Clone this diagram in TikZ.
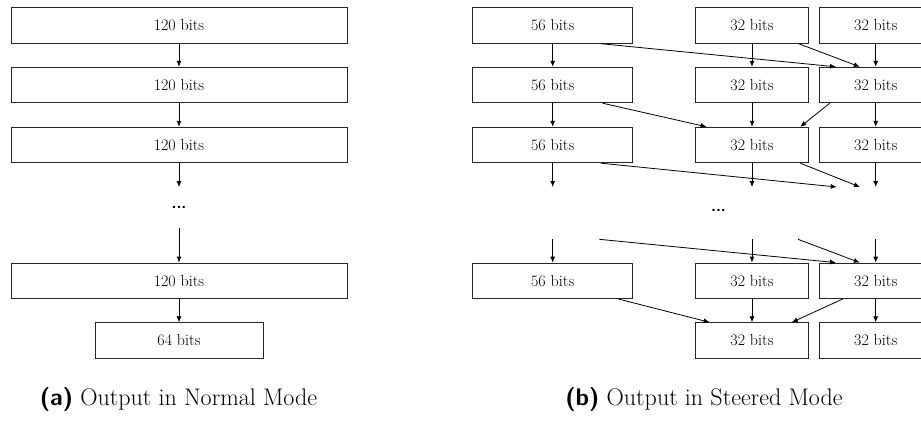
\documentclass[tikz,border=0pt]{standalone}
\usetikzlibrary{arrows.meta,calc}
\begin{document}
\begin{tikzpicture}[x=1pt,y=-1pt,
  box/.style={draw=black!85, line width=0.9pt, minimum height=35.5pt, inner sep=0pt, font=\fontsize{16}{19}\selectfont},
  bigbox/.style={box, minimum width=336pt},
  halfbox/.style={box, minimum width=168pt},
  abox/.style={box, minimum width=160pt},
  bbox/.style={box, minimum width=112.7pt},
  conn/.style={draw=black, line width=0.8pt, -{Latex[length=6pt,width=5pt]}},
  dots/.style={font=\fontsize{16}{19}\selectfont\sffamily\bfseries, inner sep=0pt},
  caption/.style={font=\fontsize{24}{29}\selectfont, inner sep=0pt}]
\useasboundingbox (0,0) rectangle (921,426);

% ---------- (a) Normal Mode ----------
\node[bigbox] (L1) at (179,25.5) {120 bits};
\node[bigbox] (L2) at (179,85) {120 bits};
\node[bigbox] (L3) at (179,145) {120 bits};
\coordinate (Lg1) at (179,187);
\node[dots] (Ldots) at (179,207) {...};
\coordinate (Lg2) at (179,228);
\node[bigbox] (L4) at (179,280.8) {120 bits};
\node[halfbox] (L5) at (179,340.5) {64 bits};

\draw[conn] (L1) -- (L2);
\draw[conn] (L2) -- (L3);
\draw[conn] (L3) -- (Lg1);
\draw[conn] (Lg2) -- (L4);
\draw[conn] (L4) -- (L5);

\node[caption] (capa) at (178.5,399) {{\sffamily\bfseries (a)} Output in Normal Mode};

% ---------- (b) Steered Mode ----------
\node[abox] (A1) at (552.7,25.5) {56 bits};
\node[abox] (A2) at (552.7,85) {56 bits};
\node[abox] (A3) at (552.7,145) {56 bits};
\node[abox] (A4) at (552.7,280.8) {56 bits};

\node[bbox] (B1) at (752,25.5) {32 bits};
\node[bbox] (B2) at (752,85) {32 bits};
\node[bbox] (B3) at (752,145) {32 bits};
\node[bbox] (B4) at (752,280.8) {32 bits};
\node[bbox] (B5) at (752,340.5) {32 bits};

\node[bbox] (C1) at (875.7,25.5) {32 bits};
\node[bbox] (C2) at (875.7,85) {32 bits};
\node[bbox] (C3) at (875.7,145) {32 bits};
\node[bbox] (C4) at (875.7,280.8) {32 bits};
\node[bbox] (C5) at (875.7,340.5) {32 bits};

\coordinate (Ag1) at (552.7,187);
\coordinate (Bg1) at (752,187);
\coordinate (Cg1) at (875.7,187);
\coordinate (Dg1) at (836.7,187);
\coordinate (Eg1) at (860,187);
\node[dots] (Rdots) at (718.5,210) {...};
\coordinate (Ag2) at (552.7,239.3);
\coordinate (Bg2) at (752,239.3);
\coordinate (Cg2) at (875.7,239.3);
\coordinate (Dg2) at (599.3,239.3);
\coordinate (Eg2) at (798,239.3);

% verticals
\draw[conn] (A1) -- (A2);
\draw[conn] (A2) -- (A3);
\draw[conn] (A3) -- (Ag1);
\draw[conn] (Ag2) -- (A4);
\draw[conn] (B1) -- (B2);
\draw[conn] (B2) -- (B3);
\draw[conn] (B3) -- (Bg1);
\draw[conn] (Bg2) -- (B4);
\draw[conn] (B4) -- (B5);
\draw[conn] (C1) -- (C2);
\draw[conn] (C2) -- (C3);
\draw[conn] (C3) -- (Cg1);
\draw[conn] (Cg2) -- (C4);
\draw[conn] (C4) -- (C5);

% diagonals
\draw[conn] ($(A1.south west)!0.8!(A1.south east)$) -- ($(C2.north west)!0.15!(C2.north east)$);
\draw[conn] ($(B1.south west)!0.91!(B1.south east)$) -- ($(C2.north west)!0.36!(C2.north east)$);
\draw[conn] ($(A2.south west)!0.81!(A2.south east)$) -- ($(B3.north west)!0.1!(B3.north east)$);
\draw[conn] ($(C2.south west)!0.095!(C2.south east)$) -- ($(B3.north west)!0.925!(B3.north east)$);
\draw[conn] ($(A3.south west)!0.8!(A3.south east)$) -- (Dg1);
\draw[conn] ($(B3.south west)!0.925!(B3.south east)$) -- (Eg1);
\draw[conn] (Dg2) -- ($(C4.north west)!0.15!(C4.north east)$);
\draw[conn] (Eg2) -- ($(C4.north west)!0.36!(C4.north east)$);
\draw[conn] ($(A4.south west)!0.908!(A4.south east)$) -- ($(B5.north west)!0.127!(B5.north east)$);
\draw[conn] ($(C4.south west)!0.21!(C4.south east)$) -- ($(B5.north west)!0.85!(B5.north east)$);

\node[caption] (capb) at (704,399) {{\sffamily\bfseries (b)} Output in Steered Mode};
\end{tikzpicture}
\end{document}
